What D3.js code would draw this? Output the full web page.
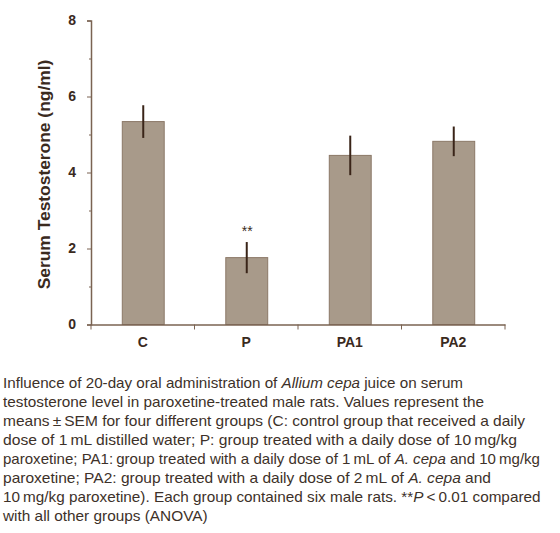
<!DOCTYPE html>
<html>
<head>
<meta charset="utf-8">
<script src="https://cdn.jsdelivr.net/npm/d3@7"></script>
<style>
  body { margin: 0; background: #fff; }
</style>
</head>
<body>
<svg id="chart" width="560" height="533"></svg>
<script>
// data
const groups = ["C", "P", "PA1", "PA2"];
const means = [5.34, 1.76, 4.45, 4.82];
const sems = [0.43, 0.41, 0.52, 0.39];
const marks = ["", "**", "", ""];
const yTicks = [0, 2, 4, 6, 8];
const yMinor = [1, 3, 5, 7];
const yTitle = "Serum Testosterone (ng/ml)";

// caption lines: [text, italic?] pieces
const captionLines = [
  [["Influence of 20-day oral administration of "], ["Allium cepa", 1], [" juice on serum"]],
  [["testosterone level in paroxetine-treated male rats. Values represent the"]],
  [["means\u2009\u00b1\u2009SEM for four different groups (C: control group that received a daily"]],
  [["dose of 1\u2009mL distilled water; P: group treated with a daily dose of 10\u2009mg/kg"]],
  [["paroxetine; PA1:\u2009group treated with a daily dose of 1\u2009mL of "], ["A. cepa", 1], [" and 10\u2009mg/kg"]],
  [["paroxetine; PA2: group treated with a daily dose of 2\u2009mL of "], ["A. cepa", 1], [" and"]],
  [["10\u2009mg/kg paroxetine). Each group contained six male rats. **"], ["P", 1], ["\u2009<\u20090.01 compared"]],
  [["with all other groups (ANOVA)"]]
];
const captionEnds = [463, 484, 525, 517, 540, 491, 540.5, null];

const margin = { top: 20.5, left: 91 };
const graphWidth = 414;
const graphHeight = 304;
const axisColor = "#7a6352";
const textColor = "#3a2a1e";
const font = "Liberation Sans, Arial, sans-serif";

const svg = d3.select("#chart");
const graph = svg.append("g")
  .attr("transform", `translate(${margin.left}, ${margin.top})`);

//scales
const yScale = d3.scaleLinear().domain([0, 8]).range([graphHeight, 0]);
const xScale = d3.scaleBand().domain(groups).range([0, graphWidth]).padding(0);
const barWidth = xScale.bandwidth() * 0.405;
const cx = d => xScale(d) + xScale.bandwidth() / 2 + 0.5;

//bars
graph.selectAll("rect.bar")
  .data(groups)
  .enter()
  .append("rect")
  .attr("class", "bar")
  .attr("x", d => cx(d) - barWidth / 2)
  .attr("y", (d, i) => yScale(means[i]))
  .attr("width", barWidth)
  .attr("height", (d, i) => graphHeight - yScale(means[i]))
  .attr("fill", "#a89a8a")
  .attr("stroke", "#8b7867")
  .attr("stroke-width", 1);

//error bars
graph.selectAll("line.err")
  .data(groups)
  .enter()
  .append("line")
  .attr("class", "err")
  .attr("x1", cx)
  .attr("x2", cx)
  .attr("y1", (d, i) => yScale(means[i] + sems[i]))
  .attr("y2", (d, i) => yScale(means[i] - sems[i]))
  .attr("stroke", "#3a2418")
  .attr("stroke-width", 2);

//significance marks
graph.selectAll("text.sig")
  .data(groups)
  .enter()
  .append("text")
  .attr("class", "sig")
  .attr("x", d => cx(d) + 0.5)
  .attr("y", (d, i) => yScale(means[i] + sems[i]) - 6)
  .attr("text-anchor", "middle")
  .attr("font-family", font)
  .attr("font-size", 14)
  .attr("fill", textColor)
  .text((d, i) => marks[i]);

//axes
const yAxisGroup = graph.append("g");
yAxisGroup.call(d3.axisLeft(yScale).tickValues(yTicks).tickSize(4).tickFormat(d3.format("d")));
const yMinorGroup = graph.append("g");
yMinorGroup.call(d3.axisLeft(yScale).tickValues(yMinor).tickSize(2).tickFormat(""));
yMinorGroup.select(".domain").remove();

const xAxisGroup = graph.append("g").attr("transform", `translate(0, ${graphHeight})`);
xAxisGroup.call(d3.axisBottom(xScale).tickSize(0).tickPadding(13));
const edges = groups.map(g => xScale(g)).concat([graphWidth]);
graph.append("g")
  .attr("transform", `translate(0, ${graphHeight})`)
  .selectAll("line")
  .data(edges)
  .enter()
  .append("line")
  .attr("x1", d => d).attr("x2", d => d)
  .attr("y1", 0).attr("y2", 5)
  .attr("stroke", axisColor);

[yAxisGroup, yMinorGroup, xAxisGroup].forEach(g => {
  g.selectAll("path").attr("stroke", axisColor).attr("stroke-width", 1.5);
  g.selectAll("line").attr("stroke", axisColor);
  g.selectAll("text")
    .attr("fill", textColor)
    .attr("font-family", font)
    .attr("font-weight", "bold")
    .attr("font-size", 14);
});
yAxisGroup.selectAll("text").attr("dx", -8);

//axis title
svg.append("text")
  .attr("transform", `translate(50, ${margin.top + yScale(4) + 2}) rotate(-90)`)
  .attr("text-anchor", "middle")
  .attr("font-family", font)
  .attr("font-weight", "bold")
  .attr("font-size", 17.4)
  .attr("fill", textColor)
  .text(yTitle);

//caption
const caption = svg.append("g").attr("class", "caption");
const lines = caption.selectAll("text")
  .data(captionLines)
  .enter()
  .append("text")
  .attr("x", 3)
  .attr("y", (d, i) => 387.5 + i * 19)
  .attr("font-family", font)
  .attr("font-size", 15)
  .attr("fill", "#3d3129");
lines.selectAll("tspan")
  .data(d => d)
  .enter()
  .append("tspan")
  .attr("font-style", d => d[1] ? "italic" : null)
  .text(d => d[0]);

// fit each line to its measured width, last line uses the mean ratio
let ratios = [];
lines.each(function(d, i) {
  const end = captionEnds[i];
  if (end) {
    const natural = this.getComputedTextLength();
    ratios.push((end - 3) / natural);
    d3.select(this).attr("textLength", end - 3).attr("lengthAdjust", "spacingAndGlyphs");
  }
});
const avg = d3.mean(ratios);
lines.filter((d, i) => !captionEnds[i]).each(function() {
  const natural = this.getComputedTextLength();
  d3.select(this).attr("textLength", natural * avg).attr("lengthAdjust", "spacingAndGlyphs");
});
</script>
</body>
</html>
